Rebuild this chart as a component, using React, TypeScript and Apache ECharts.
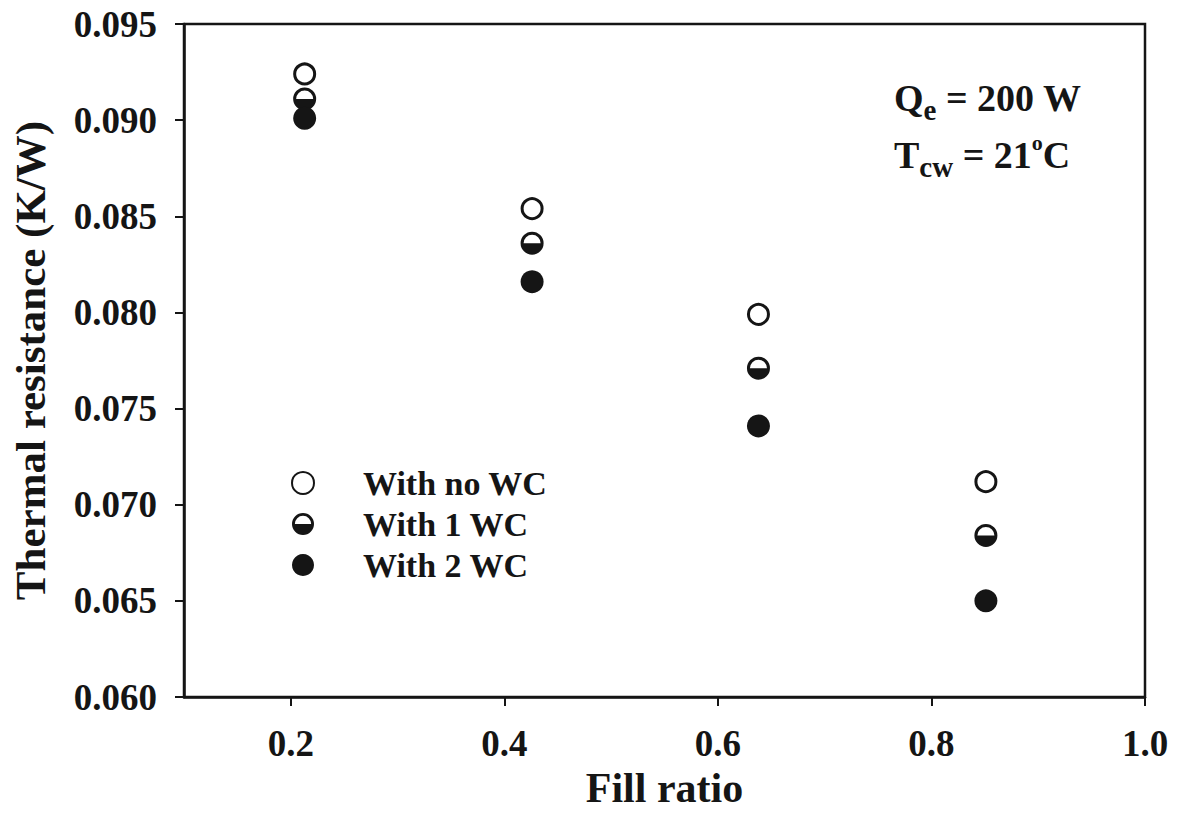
import React, { useEffect, useRef } from "react";
import * as echarts from "echarts";

const fillRatio = [0.213, 0.426, 0.638, 0.851];
const noWC = [0.0924, 0.0854, 0.0799, 0.0712];
const oneWC = [0.0911, 0.0836, 0.0771, 0.0684];
const twoWC = [0.0901, 0.0816, 0.0741, 0.065];
const xTicks = [0.2, 0.4, 0.6, 0.8, 1.0];
const seriesNames = ["With no WC", "With 1 WC", "With 2 WC"];

const HALF =
  "path://M0,10 A10,10 0 1,1 20,10 A10,10 0 1,1 0,10 Z M2.6,10 L17.4,10 A7.4,7.4 0 0,0 2.6,10 Z";

const FONT = "Liberation Serif";
const INK = "#151515";

export default function App() {
  const ref = useRef<HTMLDivElement>(null);
  useEffect(() => {
    document.body.style.margin = "0";
    const chart = echarts.init(ref.current!, undefined, { renderer: "svg" });
    const pts = (ys: number[]) => fillRatio.map((x, i) => [x, ys[i]]);
    chart.setOption({
      animation: false,
      backgroundColor: "#fff",
      grid: {
        left: 184,
        right: 33,
        top: 24,
        bottom: 117,
        show: true,
        borderColor: INK,
        borderWidth: 2.5,
      },
      xAxis: {
        type: "value",
        min: 0.1,
        max: 1.0,
        name: "Fill ratio",
        nameLocation: "middle",
        nameGap: 68,
        nameTextStyle: { fontFamily: FONT, fontWeight: "bold", fontSize: 42, color: INK },
        axisLine: { show: true, lineStyle: { color: INK, width: 2.5 } },
        axisTick: { show: true, inside: false, length: 9, lineStyle: { color: INK, width: 2 }, customValues: xTicks },
        axisLabel: {
          customValues: xTicks,
          margin: 28,
          fontFamily: FONT,
          fontWeight: "bold",
          fontSize: 37,
          color: INK,
          formatter: (v: number) => v.toFixed(1),
        },
        splitLine: { show: false },
      },
      yAxis: {
        type: "value",
        min: 0.06,
        max: 0.095,
        interval: 0.005,
        name: "Thermal resistance (K/W)",
        nameLocation: "middle",
        nameGap: 132,
        nameTextStyle: { fontFamily: FONT, fontWeight: "bold", fontSize: 43, color: INK },
        axisLine: { show: true, lineStyle: { color: INK, width: 2.5 } },
        axisTick: { show: true, inside: false, length: 9, lineStyle: { color: INK, width: 2 } },
        axisLabel: {
          margin: 27,
          fontFamily: FONT,
          fontWeight: "bold",
          fontSize: 37,
          color: INK,
          formatter: (v: number) => v.toFixed(3),
        },
        splitLine: { show: false },
      },
      legend: {
        orient: "vertical",
        left: 286,
        top: 461,
        itemWidth: 22,
        itemHeight: 22,
        itemGap: 7,
        data: seriesNames,
        textStyle: {
          fontFamily: FONT,
          fontWeight: "bold",
          fontSize: 34,
          color: INK,
          padding: [0, 0, 0, 44],
        },
      },
      series: [
        {
          name: seriesNames[0],
          type: "scatter",
          symbol: "circle",
          symbolSize: 20,
          itemStyle: { color: "#fff", borderColor: INK, borderWidth: 3, opacity: 1 },
          data: pts(noWC),
        },
        {
          name: seriesNames[1],
          type: "scatter",
          symbol: HALF,
          symbolSize: 23,
          itemStyle: { color: INK, opacity: 1 },
          data: pts(oneWC),
        },
        {
          name: seriesNames[2],
          type: "scatter",
          symbol: "circle",
          symbolSize: 23,
          itemStyle: { color: INK, opacity: 1 },
          data: pts(twoWC),
        },
      ],
      graphic: [
        {
          type: "text",
          left: 894,
          top: 71,
          style: {
            text: "{b|Q}{s|e}{b| = 200 W}\n{b|T}{s|cw}{b| = 21}{p|o}{b|C}",
            rich: {
              b: { fontFamily: FONT, fontWeight: "bold", fontSize: 38, fill: INK, lineHeight: 57 },
              s: { fontFamily: FONT, fontWeight: "bold", fontSize: 29, fill: INK, padding: [24, 0, 0, 0], lineHeight: 57 },
              p: { fontFamily: FONT, fontWeight: "bold", fontSize: 22, fill: INK, padding: [0, 0, 24, 0], lineHeight: 57 },
            },
          },
        },
      ],
    });
    return () => chart.dispose();
  }, []);
  return <div ref={ref} style={{ width: 1178, height: 814 }} />;
}
